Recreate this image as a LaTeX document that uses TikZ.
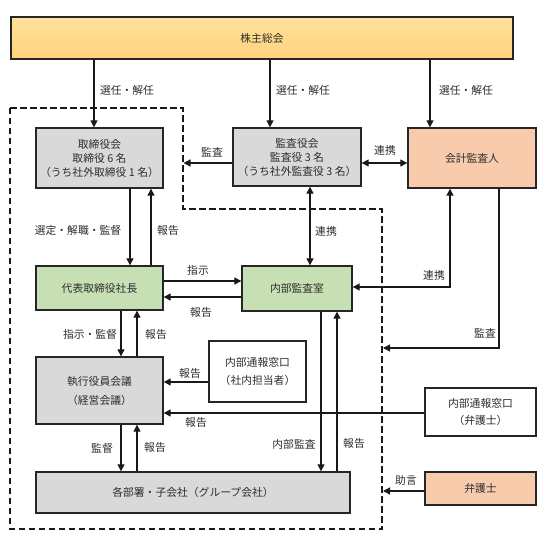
\documentclass[tikz,border=0pt]{standalone}
\usepackage{fontspec}
\setmainfont{Noto Sans CJK JP}
\usetikzlibrary{arrows.meta}
\definecolor{grayfill}{RGB}{217,217,217}
\definecolor{greenfill}{RGB}{198,224,180}
\definecolor{peach}{RGB}{248,203,173}
\definecolor{ytop}{RGB}{255,226,155}
\definecolor{ybot}{RGB}{255,210,125}
\definecolor{txt}{RGB}{45,45,45}
\begin{document}
\begin{tikzpicture}[x=1pt,y=-1pt,
  every node/.style={font=\fontsize{10.8}{14}\selectfont, text=txt},
  box/.style={draw=black!85, line width=1.4pt, inner sep=0pt, align=center},
  gbox/.style={box, fill=grayfill},
  grbox/.style={box, fill=greenfill},
  pbox/.style={box, fill=peach},
  wbox/.style={box, fill=white},
  arr/.style={-{Triangle[length=7pt,width=7pt]}, line width=1.3pt, black!90},
  darr/.style={{Triangle[length=7pt,width=7pt]}-{Triangle[length=7pt,width=7pt]}, line width=1.3pt, black!90},
  lbl/.style={inner sep=1pt},
  bound/.style={line width=1.8pt, dash pattern=on 6.5pt off 3.5pt, black!90}
]
\useasboundingbox[fill=white] (0,0) rectangle (546,546);

% boxes
\node[box, top color=ytop, bottom color=ybot, minimum width=502, minimum height=42] (top) at (262,38) {株主総会};
\node[gbox, minimum width=127, minimum height=60] (tori) at (99.5,158) {取締役会\\取締役 6 名\\（うち社外取締役 1 名）};
\node[gbox, minimum width=128, minimum height=58] (kansa) at (297,157) {監査役会\\監査役 3 名\\（うち社外監査役 3 名）};
\node[pbox, minimum width=128, minimum height=60] (kaikei) at (472,158) {会計監査人};
\node[grbox, minimum width=127, minimum height=44] (daihyo) at (99.5,288) {代表取締役社長};
\node[grbox, minimum width=110, minimum height=45] (naibu) at (297,288.5) {内部監査室};
\node[gbox, minimum width=127, minimum height=67] (shikko) at (99.5,390.5) {執行役員会議\\[5pt]（経営会議）};
\node[wbox, minimum width=97, minimum height=61] (tsuho1) at (257.5,371.5) {内部通報窓口\\[4pt]（社内担当者）};
\node[wbox, minimum width=111, minimum height=48] (tsuho2) at (480.5,412) {内部通報窓口\\[3pt]（弁護士）};
\node[pbox, minimum width=111, minimum height=33] (bengo) at (480.5,488.5) {弁護士};
\node[gbox, minimum width=314, minimum height=41] (kakubu) at (193,492.5) {各部署・子会社（グループ会社）};

% dashed boundary
\coordinate (d1) at (10,108);
\coordinate (d2) at (183,108);
\coordinate (d3) at (183,209);
\coordinate (d4) at (382,209);
\coordinate (d5) at (382,529);
\coordinate (d6) at (10,529);
\draw[bound] (d1) -- (d2) -- (d3) -- (d4) -- (d5) -- (d6) -- cycle;

% helper coordinates
\coordinate (X94) at (94,0);
\coordinate (X270) at (270,0);
\coordinate (X430) at (430,0);
\coordinate (X130) at (130,0);
\coordinate (X151) at (151,0);
\coordinate (X310) at (310,0);
\coordinate (X450) at (450,0);
\coordinate (X499) at (499,0);
\coordinate (X121) at (121,0);
\coordinate (X137) at (137,0);
\coordinate (X321) at (321,0);
\coordinate (X337) at (337,0);
\coordinate (Y163) at (0,163);
\coordinate (Y281) at (0,281);
\coordinate (Y297) at (0,297);
\coordinate (Y287) at (0,287);
\coordinate (Y382) at (0,382);
\coordinate (Y413) at (0,413);
\coordinate (Y491) at (0,491);
\coordinate (b1) at (183.5,163);
\coordinate (b2) at (383,348);
\coordinate (b3) at (383,491);

% connectors
\draw[arr] (X94 |- top.south) -- (X94 |- tori.north);
\draw[arr] (X270 |- top.south) -- (X270 |- kansa.north);
\draw[arr] (X430 |- top.south) -- (X430 |- kaikei.north);
\draw[arr] (kansa.west |- Y163) -- (b1);
\draw[darr] (kansa.east |- Y163) -- (kaikei.west |- Y163);
\draw[arr] (X130 |- tori.south) -- (X130 |- daihyo.north);
\draw[arr] (X151 |- daihyo.north) -- (X151 |- tori.south);
\draw[arr] (daihyo.east |- Y281) -- (naibu.west |- Y281);
\draw[arr] (naibu.west |- Y297) -- (daihyo.east |- Y297);
\draw[darr] (X310 |- kansa.south) -- (X310 |- naibu.north);
\draw[darr] (X450 |- kaikei.south) |- (naibu.east |- Y287);
\draw[arr] (X499 |- kaikei.south) |- (b2);
\draw[arr] (X121 |- daihyo.south) -- (X121 |- shikko.north);
\draw[arr] (X137 |- shikko.north) -- (X137 |- daihyo.south);
\draw[arr] (tsuho1.west |- Y382) -- (shikko.east |- Y382);
\draw[arr] (tsuho2.west |- Y413) -- (shikko.east |- Y413);
\draw[arr] (X121 |- shikko.south) -- (X121 |- kakubu.north);
\draw[arr] (X137 |- kakubu.north) -- (X137 |- shikko.south);
\draw[arr] (X321 |- naibu.south) -- (X321 |- kakubu.north);
\draw[arr] (X337 |- kakubu.north) -- (X337 |- naibu.south);
\draw[arr] (bengo.west |- Y491) -- (b3);

% labels
\node[lbl] (l1) at (127,90) {選任・解任};
\node[lbl] (l2) at (303,90) {選任・解任};
\node[lbl] (l3) at (466,90) {選任・解任};
\node[lbl] (l4) at (212,152) {監査};
\node[lbl] (l5) at (385,150) {連携};
\node[lbl] (l6) at (78,230) {選定・解職・監督};
\node[lbl] (l7) at (168,230) {報告};
\node[lbl] (l8) at (198,270) {指示};
\node[lbl] (l9) at (201,312) {報告};
\node[lbl] (l10) at (326,231) {連携};
\node[lbl] (l11) at (434,275) {連携};
\node[lbl] (l12) at (485,333) {監査};
\node[lbl] (l13) at (90,334) {指示・監督};
\node[lbl] (l14) at (156,334) {報告};
\node[lbl] (l15) at (190,373) {報告};
\node[lbl] (l16) at (196,422) {報告};
\node[lbl] (l17) at (102,448) {監督};
\node[lbl] (l18) at (155,447) {報告};
\node[lbl] (l19) at (294,444) {内部監査};
\node[lbl] (l20) at (354,443) {報告};
\node[lbl] (l21) at (406,480) {助言};
\end{tikzpicture}
\end{document}
